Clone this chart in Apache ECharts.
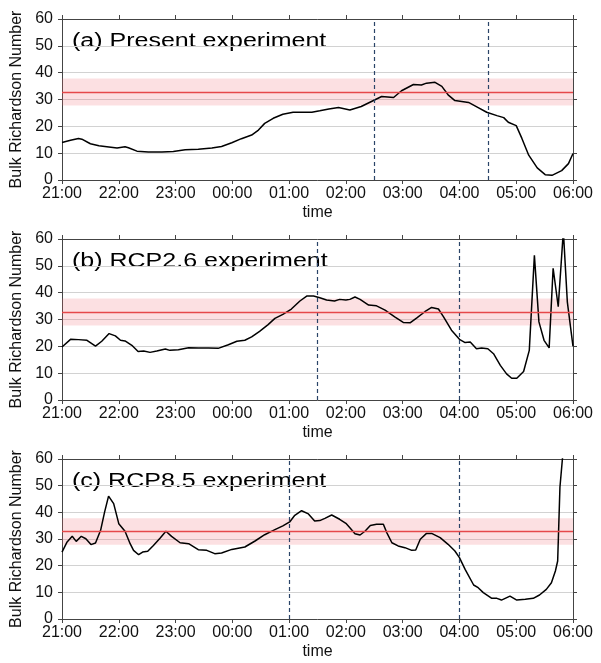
<!DOCTYPE html>
<html>
<head>
<meta charset="utf-8">
<script src="https://cdn.jsdelivr.net/npm/echarts@6/dist/echarts.min.js"></script>
<style>html,body{margin:0;padding:0;background:#fff}#main{width:601px;height:663px}</style>
</head>
<body>
<div id="main"></div>
<script>
// tick labels on the time axis (hours after 21:00)
var timeLabels = ["21:00", "22:00", "23:00", "00:00", "01:00", "02:00", "03:00", "04:00", "05:00", "06:00"];
var panelTitles = ["(a) Present experiment", "(b) RCP2.6 experiment", "(c) RCP8.5 experiment"];

// threshold line and its shaded range
var threshold = 32.8;
var bandLow = 27.8;
var bandHigh = 37.8;

// dashed markers (hours after 21:00)
var markersA = [5.5, 7.5];
var markersB = [4.5, 7];
var markersC = [4, 7];

// (a) Present
var hoursA = [0, 0.15, 0.29, 0.35, 0.5, 0.65, 0.79, 0.97, 1.11, 1.17, 1.32, 1.52, 1.76, 1.96, 2.17, 2.4, 2.64, 2.81, 2.99, 3.16,
  3.34, 3.46, 3.57, 3.72, 3.89, 4.07, 4.25, 4.4, 4.54, 4.7, 4.87, 5.07, 5.27, 5.45, 5.63, 5.84, 5.98, 6.19, 6.33, 6.42,
  6.57, 6.69, 6.8, 6.92, 7.16, 7.33, 7.48, 7.66, 7.78, 7.86, 8.0, 8.1, 8.22, 8.37, 8.51, 8.63, 8.8, 8.92, 9.0];
var valuesA = [14.0, 14.8, 15.5, 15.2, 13.5, 12.75, 12.4, 11.9, 12.4, 12.0, 10.75, 10.4, 10.4, 10.6, 11.25, 11.5, 11.9, 12.5, 13.9, 15.4,
  16.75, 18.6, 21.1, 23.0, 24.5, 25.25, 25.25, 25.25, 25.8, 26.5, 27.0, 26.1, 27.4, 29.25, 31.1, 30.75, 33.25, 35.6, 35.4, 36.1,
  36.4, 34.9, 31.75, 29.6, 28.9, 27.0, 25.25, 24.0, 23.25, 21.5, 20.25, 15.5, 9.25, 4.5, 2.0, 1.75, 3.5, 6.1, 9.9];

// (b) RCP2.6
var hoursB = [0, 0.15, 0.29, 0.44, 0.59, 0.7, 0.83, 0.94, 1.03, 1.11, 1.23, 1.34, 1.44, 1.55, 1.67, 1.82, 1.9, 2.05, 2.23, 2.4,
  2.58, 2.75, 2.93, 3.08, 3.22, 3.34, 3.48, 3.63, 3.75, 3.89, 4.04, 4.19, 4.31, 4.43, 4.54, 4.66, 4.8, 4.89, 5.0, 5.07,
  5.16, 5.25, 5.4, 5.54, 5.69, 5.86, 6.01, 6.13, 6.25, 6.39, 6.51, 6.63, 6.72, 6.86, 7.0, 7.1, 7.19, 7.3, 7.39, 7.5,
  7.6, 7.72, 7.83, 7.92, 8.01, 8.13, 8.23, 8.32, 8.4, 8.49, 8.58, 8.65, 8.74, 8.83, 8.9, 9.0];
var valuesB = [19.75, 22.6, 22.5, 22.25, 20.1, 21.9, 24.75, 23.9, 22.25, 22.0, 20.4, 18.1, 18.25, 17.75, 18.25, 19.0, 18.5, 18.75, 19.5, 19.4,
  19.4, 19.25, 20.6, 21.9, 22.25, 23.5, 25.6, 28.1, 30.4, 31.9, 33.9, 36.9, 38.75, 38.75, 38.1, 37.25, 36.9, 37.5, 37.25, 37.5,
  38.4, 37.5, 35.4, 35.1, 33.5, 31.0, 28.9, 28.75, 30.6, 32.9, 34.5, 33.9, 31.0, 26.0, 22.6, 21.4, 21.6, 19.1, 19.4, 19.1,
  17.25, 12.9, 9.75, 8.1, 8.1, 10.6, 18.5, 53.9, 29.1, 22.25, 19.4, 49.1, 34.75, 63, 36.6, 20.0];

// (c) RCP8.5
var hoursC = [0, 0.09, 0.18, 0.25, 0.34, 0.42, 0.51, 0.59, 0.68, 0.75, 0.82, 0.91, 1.0, 1.11, 1.2, 1.26, 1.35, 1.42, 1.51, 1.61,
  1.73, 1.83, 1.93, 2.08, 2.23, 2.4, 2.55, 2.69, 2.81, 2.99, 3.22, 3.4, 3.57, 3.75, 3.89, 4.01, 4.1, 4.22, 4.34, 4.45,
  4.54, 4.63, 4.75, 4.89, 5.0, 5.07, 5.16, 5.25, 5.34, 5.43, 5.54, 5.66, 5.72, 5.81, 5.92, 6.04, 6.16, 6.23, 6.31, 6.42,
  6.51, 6.66, 6.8, 6.92, 7.0, 7.1, 7.25, 7.33, 7.42, 7.57, 7.66, 7.74, 7.89, 8.01, 8.16, 8.3, 8.41, 8.53, 8.62, 8.69,
  8.73, 8.77, 8.83];
var valuesC = [25.1, 28.9, 31.0, 29.1, 31.0, 30.1, 27.9, 28.5, 33.25, 40.1, 46.1, 43.25, 35.75, 32.9, 28.25, 25.75, 24.1, 25.1, 25.4, 27.6,
  30.4, 32.9, 31.0, 28.6, 28.25, 26.0, 25.75, 24.5, 24.75, 26.1, 27.0, 29.25, 31.6, 33.5, 34.9, 36.4, 38.9, 40.6, 39.4, 36.75,
  36.9, 37.75, 39.0, 37.4, 35.9, 34.25, 32.0, 31.5, 33.0, 35.1, 35.5, 35.5, 32.4, 28.6, 27.4, 26.75, 25.75, 25.9, 29.9, 32.1,
  32.1, 30.5, 28.0, 25.5, 23.0, 18.6, 12.75, 11.75, 9.9, 7.75, 7.75, 7.1, 8.6, 7.1, 7.4, 7.75, 9.0, 11.1, 13.6, 18.0,
  21.75, 49.4, 64];

var myChart = echarts.init(document.getElementById("main"));

var font = "Liberation Sans";
var frame = "#444";
var panels = [
  { hours: hoursA, values: valuesA, markers: markersA, top: 19, height: 161 },
  { hours: hoursB, values: valuesB, markers: markersB, top: 239, height: 161 },
  { hours: hoursC, values: valuesC, markers: markersC, top: 459, height: 160 },
];

var grid = [], xAxis = [], yAxis = [], series = [], graphic = [];

panels.forEach(function (p, i) {
  grid.push({ left: 62, width: 511, top: p.top, height: p.height });

  var axisLine = { show: true, onZero: false, lineStyle: { color: frame, width: 1 } };
  var axisTick = { show: true, length: 4, lineStyle: { color: frame } };

  // bottom time axis
  xAxis.push({
    gridIndex: i, type: "value", position: "bottom", min: 0, max: 9, interval: 1,
    axisLine: axisLine, axisTick: axisTick, splitLine: { show: false },
    axisLabel: {
      margin: 6, fontSize: 16, color: "#111", fontFamily: font,
      formatter: function (v) { return timeLabels[v]; },
    },
    name: "time", nameLocation: "middle", nameGap: 25, nameMoveOverlap: false,
    nameTextStyle: { fontSize: 16, color: "#111", fontFamily: font },
  });
  // top frame
  xAxis.push({
    gridIndex: i, type: "value", position: "top", min: 0, max: 9, interval: 1,
    axisLine: axisLine, axisTick: axisTick, axisLabel: { show: false }, splitLine: { show: false },
  });

  yAxis.push({
    gridIndex: i, type: "value", position: "left", min: 0, max: 60, interval: 10,
    axisLine: axisLine, axisTick: axisTick,
    splitLine: { show: true, lineStyle: { color: "#d2d2d2", width: 1 } },
    axisLabel: { margin: 9, fontSize: 16, color: "#111", fontFamily: font },
    name: "Bulk Richardson Number", nameLocation: "middle", nameGap: 37, nameMoveOverlap: false,
    nameTextStyle: { fontSize: 16, color: "#111", fontFamily: font },
  });
  // right frame
  yAxis.push({
    gridIndex: i, type: "value", position: "right", min: 0, max: 60, interval: 10,
    axisLine: axisLine, axisTick: axisTick, axisLabel: { show: false }, splitLine: { show: false },
  });

  var lines = p.markers.map(function (m) {
    return { xAxis: m, lineStyle: { color: "#2a4468", width: 1.2, type: [4, 3] } };
  });
  lines.push({ yAxis: threshold, lineStyle: { color: "#e5484a", width: 1.3, type: "solid" } });

  series.push({
    type: "line",
    xAxisIndex: 2 * i,
    yAxisIndex: 2 * i,
    data: p.hours.map(function (h, k) { return [h, p.values[k]]; }),
    showSymbol: false,
    clip: true,
    lineStyle: { color: "#000", width: 1.5 },
    silent: true,
    markArea: {
      silent: true,
      itemStyle: { color: "rgba(240,100,110,0.2)" },
      data: [[{ yAxis: bandLow }, { yAxis: bandHigh }]],
    },
    markLine: { silent: true, symbol: "none", label: { show: false }, data: lines },
  });

  graphic.push({
    type: "text", x: 72, y: p.top + 22, scaleX: 1.25,
    style: { text: panelTitles[i], font: "20px " + font, fill: "#000", verticalAlign: "middle" },
  });
});

var option = {
  animation: false,
  grid: grid,
  xAxis: xAxis,
  yAxis: yAxis,
  series: series,
  graphic: graphic,
};

myChart.setOption(option);
</script>
</body>
</html>
